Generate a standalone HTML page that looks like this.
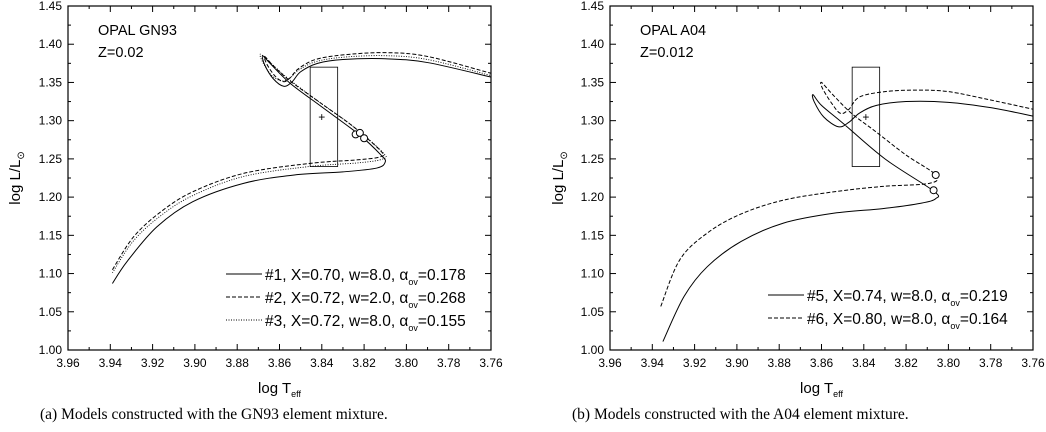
<!DOCTYPE html>
<html><head><meta charset="utf-8"><style>
body{margin:0;background:#fff;width:1046px;height:427px;overflow:hidden}
svg text{font-family:"Liberation Sans",Arial,sans-serif;fill:#000}
.cap{font-family:"Liberation Serif",serif;font-size:15.5px}
</style></head><body>
<svg id="chart" width="1046" height="427"></svg>
<script>
const xTicks=[3.96,3.94,3.92,3.90,3.88,3.86,3.84,3.82,3.80,3.78,3.76];
const yTicks=[1.00,1.05,1.10,1.15,1.20,1.25,1.30,1.35,1.40,1.45];
// Panel a series: [logTeff, logL]
const s1T=[3.939,3.932,3.918,3.901,3.877,3.853,3.830,3.814,3.810,3.812,3.822,3.840,3.855,3.8645,3.868,3.867,3.863,3.858,3.854,3.850,3.842,3.83,3.81,3.79,3.76];
const s1L=[1.087,1.116,1.161,1.194,1.218,1.229,1.233,1.238,1.246,1.255,1.281,1.318,1.349,1.375,1.385,1.373,1.355,1.345,1.351,1.364,1.375,1.380,1.381,1.376,1.357];
const s2T=[3.939,3.929,3.916,3.901,3.877,3.846,3.822,3.812,3.812,3.825,3.840,3.855,3.863,3.867,3.866,3.862,3.858,3.855,3.851,3.843,3.83,3.81,3.79,3.76];
const s2L=[1.105,1.148,1.181,1.207,1.231,1.244,1.249,1.253,1.260,1.292,1.322,1.352,1.372,1.384,1.374,1.358,1.351,1.356,1.368,1.380,1.386,1.389,1.384,1.362];
const s3T=[3.939,3.929,3.916,3.901,3.877,3.846,3.822,3.811,3.811,3.824,3.840,3.855,3.864,3.869,3.868,3.864,3.859,3.855,3.851,3.843,3.83,3.81,3.79,3.76];
const s3L=[1.101,1.143,1.176,1.202,1.227,1.240,1.245,1.250,1.258,1.290,1.322,1.353,1.375,1.387,1.377,1.360,1.352,1.356,1.366,1.377,1.383,1.385,1.380,1.359];
const aCircT=[3.824,3.822,3.820], aCircL=[1.282,1.284,1.277];
// Panel b series
const s5T=[3.935,3.925,3.914,3.898,3.878,3.854,3.831,3.813,3.806,3.807,3.83,3.85,3.86,3.864,3.8635,3.859,3.852,3.847,3.842,3.834,3.82,3.80,3.78,3.76];
const s5L=[1.011,1.070,1.109,1.142,1.166,1.179,1.185,1.192,1.198,1.208,1.250,1.297,1.320,1.334,1.325,1.305,1.292,1.298,1.310,1.320,1.325,1.324,1.317,1.306];
const s6T=[3.936,3.927,3.914,3.898,3.878,3.854,3.831,3.809,3.806,3.82,3.835,3.846,3.855,3.860,3.8595,3.855,3.851,3.847,3.842,3.83,3.815,3.80,3.78,3.76];
const s6L=[1.057,1.118,1.153,1.178,1.196,1.207,1.214,1.218,1.229,1.255,1.287,1.310,1.335,1.350,1.342,1.322,1.3095,1.315,1.331,1.338,1.340,1.338,1.327,1.315];
const bCircT=[3.807,3.806], bCircL=[1.209,1.229];

const NS='http://www.w3.org/2000/svg', svg=document.getElementById('chart');
function mk(tag,at,parent){const e=document.createElementNS(NS,tag);for(const k in at)e.setAttribute(k,at[k]);(parent||svg).appendChild(e);return e;}
function path(pts){let d='M'+pts[0][0]+','+pts[0][1];for(let i=0;i<pts.length-1;i++){const p0=pts[i-1]||pts[i],p1=pts[i],p2=pts[i+1],p3=pts[i+2]||p2;
d+=' C'+(p1[0]+(p2[0]-p0[0])/6)+','+(p1[1]+(p2[1]-p0[1])/6)+' '+(p2[0]-(p3[0]-p1[0])/6)+','+(p2[1]-(p3[1]-p1[1])/6)+' '+p2[0]+','+p2[1];}return d;}
function panel(x0,x1,series,circT,circL,plus,label1,label2,legY,legX,caption,capX,ylabX){
 const y0=6,y1=350;
 const X=v=>x0+(3.96-v)/0.2*(x1-x0), Y=v=>y1-(v-1.0)/0.45*(y1-y0);
 const g=mk('g',{});
 
 
 const fr=mk('rect',{x:x0,y:y0,width:x1-x0,height:y1-y0,fill:'none',stroke:'#000','stroke-width':1.2},g);
 
 for(let k=0;k<=20;k++){const x=x0+k*(x1-x0)/20,l=k%2===0?6:3;
  mk('line',{x1:x,x2:x,y1:y1,y2:y1-l,stroke:'#000'},g);mk('line',{x1:x,x2:x,y1:y0,y2:y0+l,stroke:'#000'},g);}
 for(let k=0;k<=18;k++){const y=y1-k*(y1-y0)/18,l=k%2===0?6:3;
  mk('line',{x1:x0,x2:x0+l,y1:y,y2:y,stroke:'#000'},g);mk('line',{x1:x1,x2:x1-l,y1:y,y2:y,stroke:'#000'},g);}
 xTicks.forEach(v=>{const t=mk('text',{x:X(v),y:y1+17,'text-anchor':'middle','font-size':12},g);t.textContent=v.toFixed(2);
  });
 yTicks.forEach(v=>{const y=Y(v);
  const t=mk('text',{x:x0-6,y:y+4,'text-anchor':'end','font-size':12},g);t.textContent=v.toFixed(2);
  });
 const bx=mk('rect',{x:X(3.8455),y:Y(1.37),width:X(3.8325)-X(3.8455),height:Y(1.24)-Y(1.37),fill:'none',stroke:'#000','stroke-width':0.8},g);
 
 const pl=mk('text',{x:X(plus[0]),y:Y(plus[1])+4,'text-anchor':'middle','font-size':12},g);pl.textContent='+';
 
 series.forEach((s,i)=>{const p=mk('path',{d:path(s.T.map((t,j)=>[X(t),Y(s.L[j])])),fill:'none',stroke:'#000','stroke-width':s.dash==='1,1.5'?0.9:1,'stroke-dasharray':s.dash},g);
  
  const ly=legY+i*23;mk('line',{x1:legX,x2:legX+36,y1:ly,y2:ly,stroke:'#000','stroke-dasharray':s.dash},g);
  const t=mk('text',{x:legX+39,y:ly+6,'font-size':15.5},g);
  t.innerHTML=s.lab+'α<tspan font-size="9" dy="5">ov</tspan><tspan dy="-5">='+s.a+'</tspan>';
  });
 circT.forEach((t,i)=>{const c=mk('circle',{cx:X(t),cy:Y(circL[i]),r:3.5,fill:'#fff',stroke:'#000'},g);
  });
 const a=mk('text',{x:x0+30,y:35,'font-size':14.5},g);a.textContent=label1;
 const b=mk('text',{x:x0+30,y:57,'font-size':14.5},g);b.textContent=label2;
 const xl=mk('text',{x:(x0+x1)/2,y:393,'text-anchor':'middle','font-size':15},g);xl.innerHTML='log T<tspan font-size="9" dy="4">eff</tspan>';
 
 const yl=mk('text',{x:0,y:0,'text-anchor':'middle','font-size':15,transform:'translate('+ylabX+',178) rotate(-90)'},g);
 yl.innerHTML='log L/L<tspan font-size="10" dy="4">⊙</tspan>';
 const c=mk('text',{x:capX,y:419,'class':'cap'},g);c.textContent=caption;
}
panel(68,491,[{id:1,T:s1T,L:s1L,dash:'none',lab:'#1, X=0.70, w=8.0, ',a:'0.178'},{id:2,T:s2T,L:s2L,dash:'4,2',lab:'#2, X=0.72, w=2.0, ',a:'0.268'},{id:3,T:s3T,L:s3L,dash:'1,1.5',lab:'#3, X=0.72, w=8.0, ',a:'0.155'}],
 aCircT,aCircL,[3.840,1.305],'OPAL GN93','Z=0.02',274,226,'(a)  Models constructed with the GN93 element mixture.',40,20);
panel(610,1033,[{id:5,T:s5T,L:s5L,dash:'none',lab:'#5, X=0.74, w=8.0, ',a:'0.219'},{id:6,T:s6T,L:s6L,dash:'4,2',lab:'#6, X=0.80, w=8.0, ',a:'0.164'}],
 bCircT,bCircL,[3.839,1.305],'OPAL A04','Z=0.012',295,768,'(b)  Models constructed with the A04 element mixture.',572,563);
</script>
</body></html>
